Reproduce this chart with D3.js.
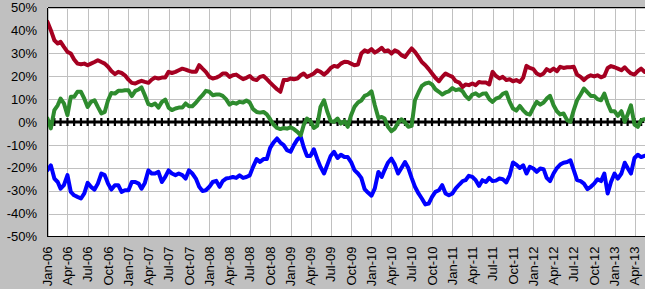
<!DOCTYPE html>
<html><head><meta charset="utf-8">
<script src="https://cdn.jsdelivr.net/npm/d3@7"></script>
<style>html,body{margin:0;padding:0;background:#c0c0c0;overflow:hidden}</style>
</head><body><svg id="c" width="645" height="289"></svg>
<script>
// Semi-monthly observations (1st and 16th of each month) from Jan-06 to mid-May-13
const startDate = "2006-01-01";
const redSeries = [
 43.7,40.1,35.7,34.3,35,32.8,30.6,29.9,27.3,25.5,25.2,25.5,24.8,25.5,26.2,27,26.2,25.5,24.1,22.3,20.9,21.9,21.4,20.4,
 18.5,17.1,16.8,17.5,18,17.5,17.1,18.5,19.4,19,19.4,19.4,21.9,21.4,21.9,22.6,23.3,22.9,22.3,21.9,21.9,24.8,23.3,21.9,
 19.7,19,19.4,20.1,21.2,21.2,19.7,20.4,20.7,19.7,18.7,19.3,20.1,18.7,18.3,19.7,20.1,18.7,17.2,15.8,14.3,13.2,18.3,18.3,
 19,18.7,19,20.4,21.2,19.7,20.4,21.2,22.6,21.9,20.7,21.9,23.6,24.5,24.1,25.5,26.3,26.2,25.5,24.8,25.1,29.9,31.3,30.6,
 31.8,30.3,31.2,32.4,30.9,31.3,29.9,31.3,30.6,29.2,28.4,30.3,32.1,30.6,28.4,26.2,24.8,23.1,21.2,19.3,17.8,19.7,21.2,20.4,
 19.7,17.8,17.2,15.3,16.4,16.1,16.8,16.1,17.5,17.2,17.2,16.4,21.9,20.1,19,19.7,18.3,18.7,17.8,18.3,17.5,19.3,24.5,23.6,
 23.1,21.2,20.4,21.2,23.1,22.2,23.3,22.2,24.1,23.6,23.9,23.9,24.1,20.7,19.7,18.3,19.7,20.4,19.9,20.4,19.5,20.1,23.6,24.4,
 23.9,23.3,22.6,23.9,22.5,21.2,20.7,22.2,23.3,21.9
];
const greenSeries = [
 1.5,-2.8,5.2,7.3,10.2,8.1,3,11,11,13.2,13.2,10.2,6.6,8.8,9.5,6.6,3.7,4.4,9.5,12.7,12.4,13.6,13.6,13.9,
 13.9,11.3,13.6,14.2,15.1,11.7,7.8,7.3,8.1,6.3,8.8,9.8,6.3,5.2,5.9,6.3,6.3,8.1,6.9,6.9,8.4,10.2,11.7,13.6,
 13.2,11.7,12,12,11.4,10,7.6,8.5,8,8.8,8.5,9.4,8.5,5.6,4.4,4.1,4.4,3.3,1.2,-1.1,-2.6,-3.1,-2.6,-2.9,
 -2.3,-3.1,-4.3,-5.8,-1.4,1.5,0.4,-2.6,-1.7,6.6,9.5,4.4,0.4,0.1,1.5,-0.7,0.4,-2.1,3,6.6,8.5,9.4,11.4,12,
 13.4,7.3,1.8,2.2,1.5,-2.1,-4,-2.9,-0.2,1.2,-0.2,-2.1,-1.7,9.5,12.9,15.8,16.8,17.2,16.4,14.3,13.2,12,12.9,13.4,
 14.8,13.9,14.3,13.4,11.4,10,12,12.5,11.4,12.3,12.5,10,8.8,10.2,10.8,12.3,12.9,8.8,5.9,5,7,5.1,3.7,3.2,
 6.3,8.8,7.6,8.5,10.2,11.4,7.3,4.7,3.3,3.7,0.8,0.1,5.2,9.5,12,14.6,12.9,11.4,11.4,10,9.5,12.4,8.1,4.7,
 4.7,2.7,4.7,0.1,3.3,7.3,-1.1,-2.1,0.8,1.2
];
const blueSeries = [
 -21,-18.9,-24.7,-26.2,-29.1,-27.6,-23.2,-30.5,-32,-32.7,-33.4,-31.2,-26.6,-28.3,-29.5,-26.9,-22.5,-23.2,-26.9,-29.5,-27.6,-27.6,-30.5,-29.8,
 -29.8,-26.2,-26.2,-26.9,-29.1,-26.6,-21.1,-22.5,-22.5,-21.8,-26.2,-24,-21.1,-22.5,-23.2,-22.5,-23.2,-24.7,-21.1,-22.5,-24.7,-28.3,-30.1,-29.8,
 -28.3,-26.2,-25.7,-28.3,-25.8,-24.7,-24.4,-24,-24.4,-23.3,-24.4,-24,-23.3,-19.6,-16.2,-17.4,-16.2,-16.2,-11.3,-9,-7.2,-9,-10.1,-12.3,
 -13,-10.1,-7.6,-6.5,-10.9,-14.8,-14.8,-11.9,-16,-19.6,-22.5,-18.6,-14.8,-13,-15.7,-14.3,-15.3,-15.3,-17.5,-21,-22.5,-24.4,-29.3,-30.8,
 -32.2,-29,-21.8,-24,-21,-17.8,-16,-18.6,-22.5,-20.1,-17.5,-20.1,-24.4,-28.3,-31.2,-33.4,-36,-35.6,-32.7,-30.5,-29.8,-27.6,-31.2,-32,
 -31.2,-29,-27.3,-25.8,-25.4,-23.5,-24,-25.4,-27.9,-25.4,-26.2,-24.4,-25.8,-25.6,-24.7,-25,-26.4,-23.3,-17.7,-18.6,-20.1,-18.9,-22.5,-19.6,
 -20.3,-21.8,-20.3,-20.6,-24.4,-25.8,-22.5,-20.1,-18.6,-17.8,-17.5,-16.7,-21,-25.4,-25.8,-26.9,-29.3,-28.3,-26.9,-25,-25.8,-22.5,-31.2,-26.2,
 -22.5,-24.7,-22.5,-17.8,-20.1,-22.5,-15.7,-14.3,-15.3,-14.8
];
// Monthly zero reference series (with markers)
const zeroSeries = [
 0,0,0,0,0,0,0,0,0,0,0,0, 0,0,0,0,0,0,0,0,0,0,0,0, 0,0,0,0,0,0,0,0,0,0,0,0,
 0,0,0,0,0,0,0,0,0,0,0,0, 0,0,0,0,0,0,0,0,0,0,0,0, 0,0,0,0,0,0,0,0,0,0,0,0,
 0,0,0,0,0,0,0,0,0,0,0,0, 0,0,0,0,0
];
const tickLabels = ["Jan-06","Apr-06","Jul-06","Oct-06","Jan-07","Apr-07","Jul-07","Oct-07",
 "Jan-08","Apr-08","Jul-08","Oct-08","Jan-09","Apr-09","Jul-09","Oct-09","Jan-10","Apr-10","Jul-10","Oct-10",
 "Jan-11","Apr-11","Jul-11","Oct-11","Jan-12","Apr-12","Jul-12","Oct-12","Jan-13","Apr-13"];
const yTicks = [50,40,30,20,10,0,-10,-20,-30,-40,-50];

const parseTick = d3.timeParse("%b-%y");
const t0 = d3.timeParse("%Y-%m-%d")(startDate);
const halfDates = redSeries.map((_, i) => new Date(t0.getFullYear(), t0.getMonth() + Math.floor(i / 2), i % 2 ? 16 : 1));
const monthDates = zeroSeries.map((_, i) => d3.timeMonth.offset(t0, i));
const tickDates = tickLabels.map(parseTick);

const svg = d3.select("#c");
const L = 47.5, R = 680, T = 7.5, B = 236.5;
const x = d3.scaleTime().domain([tickDates[0], tickDates[tickDates.length - 1]]).range([L, 634.5]);
const y = d3.scaleLinear().domain([-50, 50]).range([B, T]);

svg.append("rect").attr("x", L).attr("y", T).attr("width", R - L).attr("height", B - T).attr("fill", "#fff");

const grid = svg.append("g").attr("stroke", "#c0c0c0").attr("stroke-width", 1).attr("shape-rendering", "crispEdges");
grid.selectAll("line.h").data(yTicks).join("line")
  .attr("x1", L).attr("x2", R).attr("y1", d => Math.round(y(d)) + 0.5).attr("y2", d => Math.round(y(d)) + 0.5);
grid.selectAll("line.v").data(tickDates).join("line")
  .attr("y1", T).attr("y2", B).attr("x1", d => Math.round(x(d)) + 0.5).attr("x2", d => Math.round(x(d)) + 0.5);

svg.append("clipPath").attr("id", "pc").append("rect").attr("x", L).attr("y", T - 3).attr("width", R - L).attr("height", B - T + 6);
const plot = svg.append("g").attr("clip-path", "url(#pc)");

// zero line with plus markers
plot.append("path").datum(zeroSeries)
  .attr("d", d3.line().x((d, i) => x(monthDates[i])).y(d => y(d)))
  .attr("fill", "none").attr("stroke", "#000").attr("stroke-width", 3);
plot.append("g").selectAll("path").data(zeroSeries).join("path")
  .attr("transform", (d, i) => `translate(${x(monthDates[i])},${y(d)})`)
  .attr("d", "M-3,0H3M0,-4V4").attr("stroke", "#000").attr("stroke-width", 2.2).attr("fill", "none");

const line = d3.line().x((d, i) => x(halfDates[i])).y(d => y(d));
const series = [
  {values: blueSeries, color: "#0000ff"},
  {values: greenSeries, color: "#2e8b2e"},
  {values: redSeries, color: "#a50021"}
];
plot.selectAll("path.s").data(series).join("path").attr("class", "s")
  .attr("d", d => line(d.values)).attr("fill", "none")
  .attr("stroke", d => d.color).attr("stroke-width", 4)
  .attr("stroke-linejoin", "round").attr("stroke-linecap", "round");

// axes / border
const ax = svg.append("g").attr("stroke", "#000").attr("shape-rendering", "crispEdges");
ax.append("line").attr("x1", L).attr("x2", L).attr("y1", T).attr("y2", B).attr("stroke-width", 1.5);
ax.append("line").attr("x1", L).attr("x2", R).attr("y1", B).attr("y2", B).attr("stroke-width", 1);
ax.append("line").attr("x1", L).attr("x2", R).attr("y1", T).attr("y2", T).attr("stroke-width", 1);

const font = "'Liberation Sans', Arial, sans-serif";
svg.append("g").selectAll("text").data(yTicks).join("text")
  .attr("x", 37).attr("y", d => y(d)).attr("dy", "0.36em").attr("text-anchor", "end")
  .attr("font-family", font).attr("font-size", 13).attr("fill", "#000")
  .text(d => d + "%");
svg.append("g").selectAll("text").data(tickDates).join("text")
  .attr("transform", d => `translate(${x(d)},246.5) rotate(-90)`)
  .attr("dy", "0.36em").attr("text-anchor", "end")
  .attr("font-family", font).attr("font-size", 13).attr("fill", "#000")
  .text((d, i) => tickLabels[i]);
</script></body></html>
